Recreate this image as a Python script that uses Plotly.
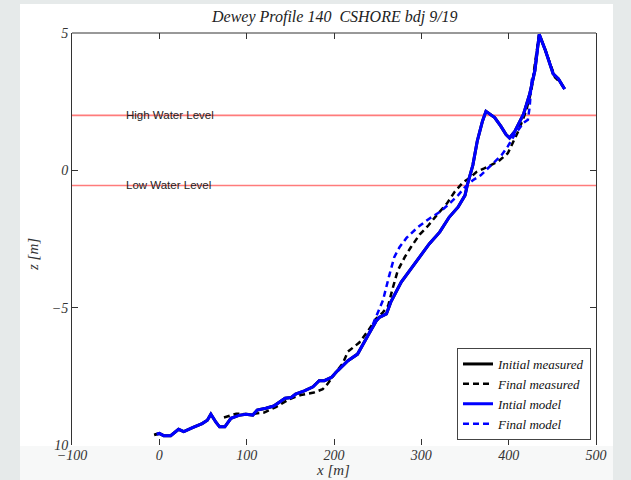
import plotly.graph_objects as go

# ---------------- data ----------------
high_water = 2.0
low_water = -0.55

init_meas_x = [-6, -3, 0, 5, 13, 22, 28, 38, 49, 55, 59, 65, 69, 75, 82, 91, 99, 107, 112, 122, 131, 144, 151,
               156, 166, 176, 183, 189, 197, 204, 216, 227, 231, 240, 248, 252, 260, 265, 277, 288, 300, 309,
               321, 332, 342, 350, 353, 359, 364, 370, 374, 384, 391, 397, 401, 407, 417, 424, 430, 435, 442,
               447, 451, 457, 464]
init_meas_z = [-9.63, -9.61, -9.58, -9.66, -9.66, -9.43, -9.51, -9.37, -9.22, -9.10, -8.88, -9.18, -9.34, -9.34,
               -9.03, -8.92, -8.88, -8.91, -8.73, -8.66, -8.58, -8.30, -8.27, -8.15, -8.03, -7.88, -7.66, -7.66,
               -7.54, -7.30, -6.93, -6.69, -6.45, -5.95, -5.50, -5.35, -5.23, -4.80, -4.07, -3.59, -3.10, -2.68,
               -2.25, -1.70, -1.34, -0.91, -0.49, 0.19, 1.06, 1.79, 2.15, 1.92, 1.61, 1.30, 1.18, 1.42, 2.04,
               2.77, 3.63, 4.95, 4.37, 3.88, 3.51, 3.33, 2.96]

final_meas_x = [74, 88, 103, 120, 134, 149, 162, 177, 187, 193, 202, 210, 216, 229, 239, 248, 256, 262, 267,
                273, 281, 288, 298, 308, 319, 329, 338, 348, 357, 363, 372, 388, 399, 411, 420, 426, 430, 435,
                442, 449, 453, 459, 466]
final_meas_z = [-9.00, -8.86, -8.88, -8.82, -8.61, -8.33, -8.18, -8.09, -7.97, -7.76, -7.36, -7.03, -6.60,
                -6.27, -5.84, -5.41, -5.17, -4.93, -4.32, -3.65, -3.16, -2.80, -2.34, -2.01, -1.58, -1.22,
                -0.79, -0.43, -0.24, -0.06, 0.07, 0.32, 0.62, 1.42, 2.16, 2.90, 3.88, 4.95, 4.37, 3.76, 3.39,
                3.20, 2.90]

init_model_x = [-3, 0, 5, 13, 22, 28, 38, 49, 55, 59, 65, 69, 75, 82, 91, 99, 107, 112, 122, 131, 144, 151,
                156, 166, 176, 183, 189, 197, 204, 216, 227, 231, 240, 248, 252, 260, 265, 277, 288, 300, 309,
                321, 332, 342, 350, 353, 359, 364, 370, 374, 384, 391, 397, 401, 407, 417, 424, 430, 435, 442,
                447, 451, 457, 464]
init_model_z = [-9.61, -9.58, -9.66, -9.66, -9.43, -9.51, -9.37, -9.22, -9.10, -8.88, -9.18, -9.34, -9.34,
                -9.03, -8.92, -8.88, -8.91, -8.73, -8.66, -8.58, -8.30, -8.27, -8.15, -8.03, -7.88, -7.66,
                -7.66, -7.54, -7.30, -6.93, -6.69, -6.45, -5.95, -5.50, -5.35, -5.23, -4.80, -4.07, -3.59,
                -3.10, -2.68, -2.25, -1.70, -1.34, -0.91, -0.49, 0.19, 1.06, 1.79, 2.15, 1.92, 1.61, 1.30,
                1.18, 1.42, 2.04, 2.77, 3.63, 4.95, 4.37, 3.88, 3.51, 3.33, 2.96]

final_model_x = [240, 250, 256, 263, 269, 275, 283, 296, 309, 321, 332, 342, 350, 359, 368, 380, 392, 399,
                 407, 417, 422, 424, 426.5, 430, 435, 442, 447, 451, 457, 464]
final_model_z = [-5.95, -5.23, -4.74, -3.86, -3.16, -2.80, -2.46, -2.07, -1.76, -1.52, -1.22, -0.91, -0.61,
                 -0.36, -0.18, 0.19, 0.56, 0.87, 1.30, 1.73, 1.84, 2.30, 3.30, 3.63, 4.95, 4.37, 3.88, 3.51,
                 3.33, 2.96]

x_ticks = [-100, 0, 100, 200, 300, 400, 500]
y_ticks = [-10, -5, 0, 5]
y_tick_text = ["10", "\u22125", "0", "5"]

title_text = "Dewey Profile 140  CSHORE bdj 9/19"
legend_names = ["Initial measured", "Final measured", "Intial model", "Final model"]

# ---------------- figure ----------------
SERIF = "Liberation Serif, Times New Roman, serif"
SANS = "Liberation Sans, Arial, sans-serif"

L, R, T, B = 72, 35, 33, 35
W, H = 631, 480
pw, ph = W - L - R, H - T - B


def px2paper_x(px):
    return (px - L) / pw


def px2paper_y(py):
    return (H - B - py) / ph


fig = go.Figure()

# water level lines
for lvl in (high_water, low_water):
    fig.add_trace(go.Scatter(x=[x_ticks[0], x_ticks[-1]], y=[lvl, lvl], mode="lines",
                             line=dict(color="#ff7b7b", width=1.6), showlegend=False, hoverinfo="skip"))

fig.add_trace(go.Scatter(x=init_meas_x, y=init_meas_z, mode="lines", name=legend_names[0],
                         line=dict(color="black", width=3)))
fig.add_trace(go.Scatter(x=final_meas_x, y=final_meas_z, mode="lines", name=legend_names[1],
                         line=dict(color="black", width=2.5, dash="6px,4px")))
fig.add_trace(go.Scatter(x=init_model_x, y=init_model_z, mode="lines", name=legend_names[2],
                         line=dict(color="#0000ff", width=3)))
fig.add_trace(go.Scatter(x=final_model_x, y=final_model_z, mode="lines", name=legend_names[3],
                         line=dict(color="#0000ff", width=2.5, dash="6px,4px")))

shapes = [
    # white figure panel on the slide background
    dict(type="rect", xref="paper", yref="paper", layer="below",
         x0=px2paper_x(20), x1=px2paper_x(613), y0=px2paper_y(446), y1=px2paper_y(4),
         fillcolor="white", line=dict(width=0)),
    dict(type="rect", xref="paper", yref="paper", layer="below",
         x0=px2paper_x(20), x1=px2paper_x(613), y0=px2paper_y(480), y1=px2paper_y(446),
         fillcolor="#f7f8f8", line=dict(width=0)),
    # top frame line
    dict(type="line", xref="paper", yref="paper", x0=0, x1=1, y0=1, y1=1,
         line=dict(color="#333333", width=1)),
]

annotations = [
    dict(text="High Water Level", x=-40, y=high_water, xref="x", yref="y", xanchor="left", yanchor="middle",
         showarrow=False, font=dict(family=SANS, size=11.5, color="#222222")),
    dict(text="Low Water Level", x=-40, y=low_water, xref="x", yref="y", xanchor="left", yanchor="middle",
         showarrow=False, font=dict(family=SANS, size=11.5, color="#222222")),
    dict(text=title_text, x=0.5, y=px2paper_y(17), xref="paper", yref="paper", xanchor="center",
         yanchor="middle", showarrow=False, font=dict(family=SERIF, size=16, color="#222222", style="italic")),
    dict(text="x [m]", x=px2paper_x(333), y=px2paper_y(470), xref="paper", yref="paper", xanchor="center",
         yanchor="middle", showarrow=False, font=dict(family=SERIF, size=15, color="#333333", style="italic")),
    dict(text="z [m]", x=px2paper_x(33), y=px2paper_y(255), xref="paper", yref="paper", xanchor="center",
         yanchor="middle", textangle=-90, showarrow=False,
         font=dict(family=SERIF, size=15, color="#333333", style="italic")),
]

fig.update_layout(
    width=W, height=H,
    margin=dict(l=L, r=R, t=T, b=B, pad=0),
    paper_bgcolor="#e6eaea",
    plot_bgcolor="white",
    shapes=shapes,
    annotations=annotations,
    showlegend=True,
    legend=dict(x=px2paper_x(591), y=px2paper_y(440), xanchor="right", yanchor="bottom",
                bgcolor="white", bordercolor="#444444", borderwidth=1,
                font=dict(family=SERIF, size=13, color="#111111", style="italic"),
                tracegroupgap=0, itemwidth=30),
    xaxis=dict(range=[-100, 500], tickvals=x_ticks, ticks="inside", ticklen=6, tickcolor="#333333",
               mirror="ticks", showline=False, showgrid=False, zeroline=False,
               tickfont=dict(family=SERIF, size=14, color="#333333", style="italic")),
    yaxis=dict(range=[-10, 5], tickvals=y_ticks, ticktext=y_tick_text, ticks="inside", ticklen=6,
               tickcolor="#333333", mirror="ticks", showline=True, linecolor="#333333", linewidth=1,
               showgrid=False, zeroline=False,
               tickfont=dict(family=SERIF, size=14, color="#333333", style="italic")),
)

fig.write_html("out.html", config={"displayModeBar": False},
               post_script="document.body.style.margin='0px';document.body.style.overflow='hidden';")
